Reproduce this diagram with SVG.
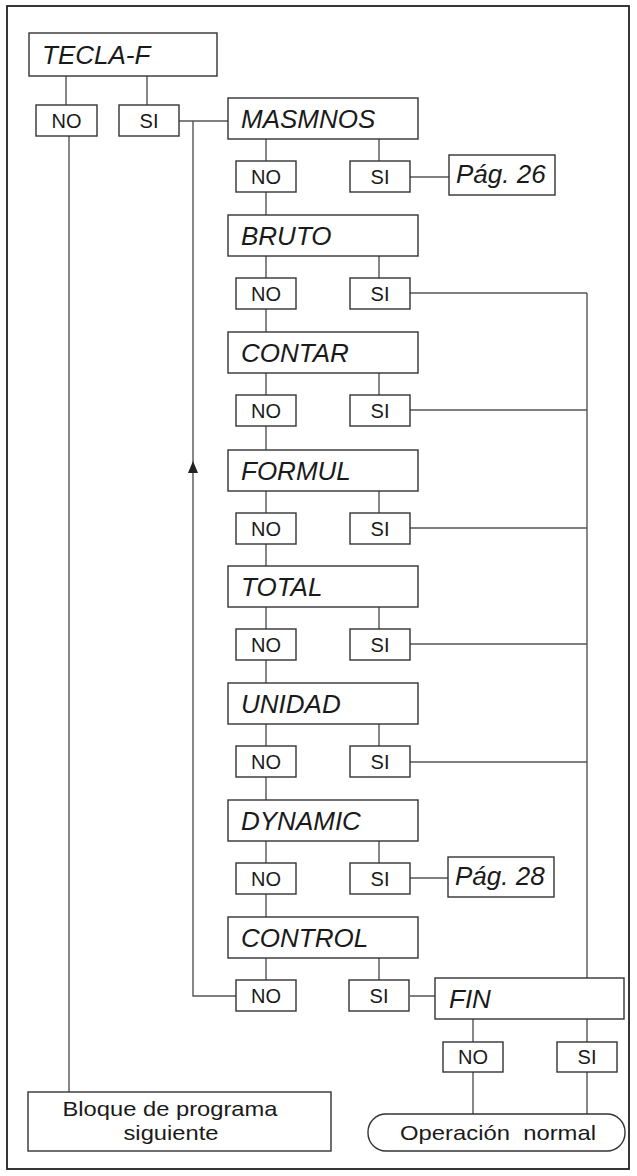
<svg xmlns="http://www.w3.org/2000/svg" width="637" height="1176" viewBox="0 0 637 1176">
<style>
.bx{fill:#fff;stroke:#333;stroke-width:1.4}
.ln{fill:none;stroke:#555;stroke-width:1.4}
.t{font-family:"Liberation Sans",Arial,sans-serif;font-style:italic;font-size:26px;fill:#1a1a1a}
.s{font-family:"Liberation Sans",Arial,sans-serif;font-size:20px;fill:#1a1a1a;text-anchor:middle}
.b{font-family:"Liberation Sans",Arial,sans-serif;font-size:21px;fill:#1a1a1a;text-anchor:middle}
</style>
<rect x="0" y="0" width="637" height="1176" fill="#fff"/>
<rect x="7" y="6" width="622" height="1163" fill="none" stroke="#222" stroke-width="1.8"/>

<g id="connectors">
<path class="ln" d="M66 76V105M147 76V105M69 136V1092M179 121H228"/>
<path class="ln" d="M236 996H193V121"/>
<path d="M193 461 L188 473 L198 473 Z" fill="#222"/>
<path class="ln" d="M266 139V161M379 139V161M266 192V215M410 177H449"/>
<path class="ln" d="M266 256V278M379 256V278M266 309V332M410 293H587"/>
<path class="ln" d="M266 373V395M379 373V395M266 426V450M410 410H587"/>
<path class="ln" d="M266 491V513M379 491V513M266 544V566M410 528H587"/>
<path class="ln" d="M266 607V629M379 607V629M266 660V683M410 644H587"/>
<path class="ln" d="M266 724V746M379 724V746M266 777V800M410 762H587"/>
<path class="ln" d="M266 841V863M379 841V863M266 894V917M410 878H448"/>
<path class="ln" d="M266 958V980M379 958V980M410 996H435"/>
<path class="ln" d="M587 293V978"/>
<path class="ln" d="M473 1019V1042M587 1019V1042M473 1072V1114M587 1072V1114"/>
</g>

<g id="tecla-f"><rect class="bx" x="29" y="33" width="188" height="43"/><text class="t" x="42" y="64">TECLA-F</text></g>
<g id="tecla-no"><rect class="bx" x="36" y="105" width="61" height="31"/><text class="s" x="66.5" y="128">NO</text></g>
<g id="tecla-si"><rect class="bx" x="119" y="105" width="60" height="31"/><text class="s" x="149" y="128">SI</text></g>

<g id="masmnos"><rect class="bx" x="228" y="98" width="190" height="41"/><text class="t" x="241" y="128">MASMNOS</text></g>
<g id="masmnos-no"><rect class="bx" x="236" y="161" width="60" height="31"/><text class="s" x="266" y="184">NO</text></g>
<g id="masmnos-si"><rect class="bx" x="350" y="161" width="60" height="31"/><text class="s" x="380" y="184">SI</text></g>
<g id="pag26"><rect class="bx" x="449" y="155" width="106" height="40"/><text class="t" x="456" y="183">Pág. 26</text></g>

<g id="bruto"><rect class="bx" x="228" y="215" width="190" height="41"/><text class="t" x="241" y="245">BRUTO</text></g>
<g id="bruto-no"><rect class="bx" x="236" y="278" width="60" height="31"/><text class="s" x="266" y="301">NO</text></g>
<g id="bruto-si"><rect class="bx" x="350" y="278" width="60" height="31"/><text class="s" x="380" y="301">SI</text></g>

<g id="contar"><rect class="bx" x="228" y="332" width="190" height="41"/><text class="t" x="241" y="362">CONTAR</text></g>
<g id="contar-no"><rect class="bx" x="236" y="395" width="60" height="31"/><text class="s" x="266" y="418">NO</text></g>
<g id="contar-si"><rect class="bx" x="350" y="395" width="60" height="31"/><text class="s" x="380" y="418">SI</text></g>

<g id="formul"><rect class="bx" x="228" y="450" width="190" height="41"/><text class="t" x="241" y="480">FORMUL</text></g>
<g id="formul-no"><rect class="bx" x="236" y="513" width="60" height="31"/><text class="s" x="266" y="536">NO</text></g>
<g id="formul-si"><rect class="bx" x="350" y="513" width="60" height="31"/><text class="s" x="380" y="536">SI</text></g>

<g id="total"><rect class="bx" x="228" y="566" width="190" height="41"/><text class="t" x="241" y="596">TOTAL</text></g>
<g id="total-no"><rect class="bx" x="236" y="629" width="60" height="31"/><text class="s" x="266" y="652">NO</text></g>
<g id="total-si"><rect class="bx" x="350" y="629" width="60" height="31"/><text class="s" x="380" y="652">SI</text></g>

<g id="unidad"><rect class="bx" x="228" y="683" width="190" height="41"/><text class="t" x="241" y="713">UNIDAD</text></g>
<g id="unidad-no"><rect class="bx" x="236" y="746" width="60" height="31"/><text class="s" x="266" y="769">NO</text></g>
<g id="unidad-si"><rect class="bx" x="350" y="746" width="60" height="31"/><text class="s" x="380" y="769">SI</text></g>

<g id="dynamic"><rect class="bx" x="228" y="800" width="190" height="41"/><text class="t" x="241" y="830">DYNAMIC</text></g>
<g id="dynamic-no"><rect class="bx" x="236" y="863" width="60" height="31"/><text class="s" x="266" y="886">NO</text></g>
<g id="dynamic-si"><rect class="bx" x="350" y="863" width="60" height="31"/><text class="s" x="380" y="886">SI</text></g>
<g id="pag28"><rect class="bx" x="448" y="857" width="106" height="40"/><text class="t" x="455" y="885">Pág. 28</text></g>

<g id="control"><rect class="bx" x="228" y="917" width="190" height="41"/><text class="t" x="241" y="947">CONTROL</text></g>
<g id="control-no"><rect class="bx" x="236" y="980" width="60" height="31"/><text class="s" x="266" y="1003">NO</text></g>
<g id="control-si"><rect class="bx" x="349" y="980" width="60" height="31"/><text class="s" x="379" y="1003">SI</text></g>

<g id="fin"><rect class="bx" x="435" y="978" width="189" height="41"/><text class="t" x="449" y="1008">FIN</text></g>
<g id="fin-no"><rect class="bx" x="443" y="1042" width="60" height="30"/><text class="s" x="473" y="1064">NO</text></g>
<g id="fin-si"><rect class="bx" x="557" y="1042" width="60" height="30"/><text class="s" x="587" y="1064">SI</text></g>

<g id="bloque"><rect class="bx" x="28" y="1092" width="303" height="59"/>
<text class="b" x="170" y="1116" textLength="215" lengthAdjust="spacingAndGlyphs">Bloque de programa</text>
<text class="b" x="171" y="1140" textLength="95" lengthAdjust="spacingAndGlyphs">siguiente</text></g>

<g id="operacion"><rect class="bx" x="368" y="1114" width="257" height="37" rx="18" ry="18"/>
<text class="b" x="498" y="1140" textLength="196" lengthAdjust="spacingAndGlyphs" xml:space="preserve">Operación  normal</text></g>
</svg>
